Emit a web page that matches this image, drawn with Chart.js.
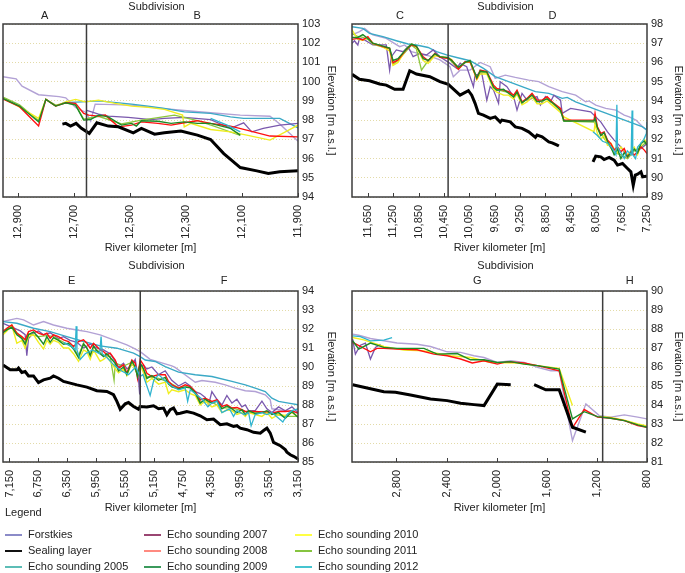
<!DOCTYPE html>
<html lang="en">
<head>
<meta charset="UTF-8" />
<title>River bed elevation by subdivision</title>
<script src="https://cdn.jsdelivr.net/npm/chart.js"></script>
<style>
  body { margin: 0; width: 685px; height: 573px; background: #fff; position: relative; overflow: hidden;
         font-family: Arial, "Liberation Sans", sans-serif; color: #222; }
  canvas { position: absolute; }
  #legendTitle { position: absolute; left: 5px; top: 506px; font-size: 11px; }
  .item { position: absolute; font-size: 11px; line-height: 15px; white-space: nowrap; }
  .item span.swatch { display: inline-block; width: 17px; height: 2px; vertical-align: middle; margin-right: 6px; }
</style>
</head>
<body>
<canvas id="c1" width="342" height="256" style="left:0;top:0"></canvas>
<canvas id="c2" width="342" height="256" style="left:343px;top:0"></canvas>
<canvas id="c3" width="342" height="256" style="left:0;top:260px"></canvas>
<canvas id="c4" width="342" height="256" style="left:343px;top:260px"></canvas>
<div id="legendTitle">Legend</div>
<div id="legend"></div>
<script>
// ---- tick labels (river kilometer, m) ----
const kmTicksAB = [12900, 12700, 12500, 12300, 12100, 11900];
const kmTicksCD = [11650, 11250, 10850, 10450, 10050, 9650, 9250, 8850, 8450, 8050, 7650, 7250];
const kmTicksEF = [7150, 6750, 6350, 5950, 5550, 5150, 4750, 4350, 3950, 3550, 3150];
const kmTicksGH = [2800, 2400, 2000, 1600, 1200, 800];

// subdivision boundaries (river km)
const splitAB = 12655, splitCD = 10385, splitEF = 5337, splitGH = 1154;

// ---- panel A/B ----
const forstkiesAB = [[12953,100.26],[12906,100.15],[12885,99.77],[12826,99.32],[12753,99.22],[12729,99.16],[12694,98.66],[12657,98.4],[12640,97.95],[12624,98.83],[12494,98.78],[12377,98.6],[12306,98.5],[12212,98.38],[12106,98.26],[12000,98.2],[11965,97.8],[11900,96.9]];
const sealingAB = [[12741,97.79],[12729,97.83],[12712,97.69],[12692,97.83],[12673,97.57],[12645,97.31],[12618,97.86],[12577,97.69],[12541,97.65],[12488,97.34],[12459,97.57],[12412,97.27],[12377,97.34],[12318,97.43],[12259,97.22],[12212,96.99],[12165,96.26],[12106,95.53],[12047,95.36],[12006,95.22],[11965,95.31],[11900,95.36]];
const echo2005AB = [[12741,98.9],[12671,98.95],[12612,99.0],[12494,98.83],[12435,98.73],[12377,98.61],[12306,98.43],[12212,98.35],[12141,98.17],[12094,98.09],[11965,98.09],[11900,97.6]];
const echo2007AB = [[12657,98.52],[12612,98.31],[12577,98.21],[12506,98.14],[12424,98.03],[12377,98.09],[12306,98.14],[12212,98.03],[12141,97.57],[12094,97.86],[12065,97.39],[12024,97.57],[11965,97.74],[11900,97.83]];
const echo2008AB = [[12953,99.1],[12894,98.7],[12826,97.7],[12800,99.08],[12765,98.73],[12729,98.9],[12694,98.87],[12665,98.35],[12647,98.26],[12612,98.21],[12588,98.26],[12541,97.65],[12494,97.74],[12459,97.91],[12400,97.83],[12353,97.74],[12306,97.86],[12259,97.97],[12212,97.83],[12141,97.69],[12083,97.48],[12000,97.17],[11900,97.13]];
const echo2009AB = [[12953,99.13],[12894,98.73],[12826,97.91],[12800,99.08],[12765,98.73],[12729,98.9],[12694,98.78],[12665,98.0],[12641,98.03],[12612,98.26],[12577,98.17],[12530,97.74],[12494,97.83],[12477,97.69],[12459,97.97],[12400,97.94],[12353,97.83],[12306,97.91],[12259,97.83],[12212,97.83],[12141,97.57],[12106,97.22]];
const echo2010AB = [[12953,99.13],[12906,98.78],[12826,98.09],[12800,99.08],[12765,98.73],[12729,98.95],[12694,99.08],[12659,98.95],[12612,99.04],[12553,98.87],[12494,98.73],[12435,98.66],[12377,98.56],[12312,98.26],[12306,97.65],[12283,97.83],[12212,97.51],[12141,97.39],[12083,97.22],[12000,96.96],[11900,97.74]];
const echo2011AB = [[12953,99.2],[12894,98.8],[12826,97.97],[12800,99.08],[12765,98.78],[12729,98.9],[12694,98.8],[12665,98.05],[12612,98.2],[12530,97.8],[12459,98.0],[12341,98.26],[12259,97.97],[12200,97.69],[12106,97.2]];
const echo2012AB = [[12212,98.09],[12153,97.74],[12106,97.39]];

// ---- panel C/D ----
const forstkiesCD = [[11900,97.43],[11782,97.6],[11703,97.77],[11571,97.43],[11360,97.25],[11148,96.82],[11069,96.91],[10963,96.56],[10858,96.47],[10673,96.33],[10514,96.13],[10356,95.78],[10303,95.26],[10197,95.6],[10039,95.6],[9880,96.0],[9722,95.78],[9643,95.17],[9484,95.34],[9326,95.22],[9115,95.08],[8956,95.0],[8798,94.74],[8586,94.48],[8375,94.3],[8217,93.95],[8164,94.0],[8058,93.78],[7900,93.61],[7741,93.52],[7609,93.26],[7530,93.17],[7424,93.0],[7319,92.65],[7250,92.48]];
const sealingCD = [[11900,95.38],[11782,95.12],[11624,95.05],[11465,94.88],[11360,94.82],[11227,94.6],[11095,94.6],[10990,95.57],[10884,95.4],[10673,95.26],[10514,95.0],[10382,94.86],[10197,94.3],[10065,94.53],[10013,94.3],[9960,93.87],[9907,93.35],[9828,93.26],[9722,93.09],[9643,93.17],[9564,92.9],[9537,93.0],[9405,92.91],[9326,92.65],[9220,92.57],[9115,92.39],[9009,92.1],[8983,92.22],[8903,92.13],[8798,91.87],[8745,91.82],[8666,91.7],[8639,91.65],[8400,null],[8101,90.83],[8058,91.13],[7979,91.09],[7926,90.95],[7847,91.06],[7768,90.92],[7715,90.66],[7636,90.74],[7557,90.48],[7504,90.31],[7467,89.61],[7435,90.14],[7398,90.19],[7345,90.31],[7319,90.05],[7266,90.08],[7250,90.1]];
const echo2005CD = [[11900,97.86],[11729,97.77],[11624,97.51],[11412,97.34],[11201,97.13],[11016,96.96],[10884,96.91],[10699,96.78],[10567,96.56],[10409,96.39],[10250,96.26],[10039,96.09],[9828,95.69],[9643,95.26],[9432,95.0],[9220,94.74],[9009,94.48],[8798,94.39],[8586,94.13],[8507,94.18],[8375,93.95],[8164,93.69],[7953,93.43],[7741,93.17],[7530,92.91],[7319,92.65],[7250,92.48]];
const echo2007CD = [[11900,96.99],[11861,97.13],[11808,96.91],[11782,97.25],[11703,97.17],[11571,96.91],[11360,96.91],[11307,95.6],[11280,96.3],[11201,96.65],[11095,96.56],[11016,96.82],[10937,96.3],[10831,96.47],[10726,96.39],[10620,96.65],[10514,96.3],[10356,95.95],[10250,95.69],[10197,95.95],[10092,95.78],[9986,94.74],[9960,95.34],[9854,95.43],[9775,94.04],[9722,94.74],[9669,94.56],[9590,93.87],[9564,95.0],[9458,94.74],[9352,94.22],[9299,93.52],[9220,94.39],[9141,94.04],[9062,94.13],[8983,94.22],[8930,93.78],[8851,94.22],[8771,93.95],[8718,94.3],[8613,94.04],[8586,93.35],[8454,93.61],[8296,93.52],[8138,93.43],[8058,93.17],[7979,92.91],[7873,92.39],[7768,91.96],[7662,91.61],[7557,91.09],[7451,91.44],[7345,91.52],[7250,91.78]];
const echo2008CD = [[11900,97.2],[11808,97.25],[11729,97.17],[11650,97.34],[11571,96.99],[11412,96.82],[11307,96.73],[11254,95.99],[11175,96.13],[11043,96.68],[10963,96.91],[10884,96.82],[10778,96.3],[10699,96.09],[10594,96.47],[10514,96.26],[10382,96.21],[10330,96.13],[10224,95.64],[10118,96.04],[10039,96.04],[9933,95.17],[9880,95.6],[9775,95.52],[9669,94.82],[9617,94.65],[9511,94.56],[9432,94.48],[9352,94.3],[9299,94.56],[9220,93.95],[9141,94.13],[9062,94.39],[8983,94.04],[8903,94.04],[8824,94.22],[8718,93.87],[8613,93.61],[8560,93.0],[8296,93.0],[8085,93.0],[8069,93.35],[8032,92.65],[7979,92.31],[7926,92.39],[7873,91.96],[7820,91.78],[7768,91.44],[7715,91.61],[7662,91.35],[7609,91.52],[7557,91.09],[7504,91.35],[7451,91.18],[7398,91.35],[7345,91.61],[7292,91.44],[7250,91.26]];
const echo2009CD = [[11900,97.3],[11808,97.3],[11729,97.45],[11650,97.25],[11571,97.0],[11412,96.85],[11307,96.75],[11254,96.1],[11175,96.2],[11043,96.7],[10963,96.95],[10884,96.85],[10778,96.2],[10699,96.1],[10594,96.45],[10514,96.3],[10382,96.25],[10330,96.1],[10224,95.75],[10118,96.0],[10039,96.1],[9933,95.2],[9880,95.55],[9775,95.5],[9669,94.7],[9617,94.55],[9511,94.6],[9432,94.4],[9352,94.2],[9299,94.45],[9220,93.9],[9141,94.1],[9062,94.3],[8983,93.95],[8903,94.0],[8824,94.1],[8718,93.85],[8613,93.5],[8560,92.95],[8296,92.95],[8085,92.95],[8069,93.1],[8032,92.6],[7979,92.2],[7926,92.35],[7873,91.9],[7820,91.6],[7768,91.2],[7715,91.5],[7662,91.0],[7609,91.3],[7557,91.1],[7504,91.3],[7451,91.5],[7398,91.3],[7345,91.8],[7292,91.9],[7250,91.7]];
const echo2010CD = [[11900,97.7],[11808,97.2],[11729,97.15],[11650,97.3],[11571,97.0],[11412,96.8],[11307,96.6],[11254,95.85],[11175,96.0],[11043,96.7],[10963,96.95],[10884,96.8],[10778,96.1],[10699,95.95],[10594,96.35],[10514,96.3],[10382,96.25],[10330,96.15],[10224,95.7],[10118,96.0],[10039,96.05],[9933,95.1],[9880,95.4],[9775,95.4],[9669,94.6],[9617,94.45],[9511,94.3],[9432,94.3],[9352,94.1],[9299,94.35],[9220,93.8],[9141,93.95],[9062,94.2],[8983,93.85],[8903,93.85],[8824,94.0],[8718,93.7],[8613,93.4],[8560,93.17],[8085,92.4],[8069,92.8],[8032,92.3],[7979,92.0],[7926,92.2],[7873,91.7],[7820,91.8],[7768,91.5],[7715,91.3],[7662,91.6],[7609,91.4],[7557,91.2],[7504,91.4],[7451,91.6],[7398,91.2],[7345,91.7],[7292,92.0],[7250,91.8]];
const echo2011CD = [[11900,97.5],[11808,97.35],[11729,97.3],[11650,97.2],[11571,96.95],[11412,96.8],[11307,96.7],[11254,95.9],[11175,96.1],[11043,96.6],[10963,96.9],[10884,96.7],[10805,95.6],[10699,96.1],[10594,96.4],[10514,96.3],[10382,96.2],[10330,96.05],[10224,95.65],[10118,96.0],[10039,96.0],[9933,95.2],[9880,95.5],[9775,95.45],[9669,94.75],[9617,94.6],[9511,94.5],[9432,94.45],[9352,94.25],[9299,94.5],[9220,93.9],[9141,94.1],[9062,94.35],[8983,94.0],[8903,93.95],[8824,94.15],[8718,93.8],[8613,93.55],[8560,92.95],[8085,92.9],[7979,92.3],[7873,91.8],[7768,91.3],[7662,91.2],[7557,91.0],[7451,91.4],[7345,91.6],[7250,91.9]];
const echo2012CD = [[8101,92.4],[8032,92.2],[7950,91.9],[7870,91.8],[7790,91.5],[7740,91.2],[7725,93.8],[7715,91.6],[7660,91.3],[7609,91.0],[7560,91.4],[7500,91.2],[7485,93.5],[7475,91.2],[7430,91.0],[7398,91.6],[7345,91.8],[7300,92.0],[7260,92.3],[7250,92.9]];

// ---- panel E/F ----
const forstkiesEF = [[7240,92.39],[7048,92.56],[6955,92.48],[6817,92.21],[6678,92.39],[6540,92.21],[6355,92.04],[6216,91.95],[6077,91.86],[5893,91.69],[5708,91.43],[5523,91.16],[5430,90.99],[5338,90.81],[5200,90.4],[4900,90.06],[4854,89.98],[4575,89.2],[4482,89.29],[4298,89.2],[4159,89.06],[4020,88.89],[3881,88.75],[3743,88.71],[3604,88.54],[3535,88.27],[3512,87.8],[3419,87.75],[3281,87.66],[3150,87.57]];
const sealingEF = [[7240,90.11],[7141,89.85],[7048,89.85],[7025,89.94],[6979,89.71],[6933,89.76],[6886,89.53],[6817,89.53],[6748,89.18],[6678,89.32],[6586,89.41],[6540,89.53],[6470,89.41],[6401,89.24],[6309,89.15],[6216,89.06],[6077,88.94],[5939,88.75],[5800,88.71],[5708,88.54],[5661,88.19],[5615,87.78],[5546,88.06],[5500,88.13],[5430,87.92],[5361,87.78],[5338,87.92],[5245,87.89],[5153,87.96],[5083,87.8],[5014,87.84],[4968,87.49],[4922,87.75],[4875,87.84],[4829,87.54],[4783,87.57],[4691,87.66],[4598,87.57],[4506,87.43],[4413,87.22],[4321,87.26],[4228,86.96],[4136,87.01],[4044,86.87],[3997,86.91],[3951,86.78],[3858,86.7],[3766,86.56],[3673,86.52],[3627,86.66],[3581,86.78],[3535,86.52],[3489,86.03],[3396,85.86],[3327,85.65],[3304,85.52],[3257,85.38],[3211,85.3],[3150,85.16]];
const echo2005EF = [[7240,92.39],[7048,92.3],[6817,92.04],[6586,91.86],[6355,91.6],[6124,91.34],[5893,91.11],[5661,90.99],[5430,90.73],[5338,90.55],[5268,90.37],[5130,90.29],[4991,90.02],[4806,89.73],[4575,89.59],[4344,89.5],[4066,89.24],[3881,89.06],[3743,88.89],[3604,88.71],[3512,88.36],[3419,88.19],[3281,88.1],[3150,88.01]];
const echo2007EF = [[7240,92.3],[7118,92.1],[7000,91.9],[6933,91.7],[6910,90.6],[6886,91.5],[6817,91.8],[6748,91.9],[6678,91.7],[6586,91.8],[6470,91.5],[6401,91.6],[6309,91.4],[6216,91.3],[6124,91.0],[6031,91.2],[5939,91.0],[5846,90.9],[5754,90.7],[5684,90.3],[5638,90.0],[5569,90.2],[5523,89.9],[5453,90.1],[5407,90.4],[5360,89.3],[5345,88.55],[5338,90.0],[5292,90.1],[5245,89.9],[5176,90.0],[5083,89.6],[4991,89.8],[4900,89.3],[4806,89.0],[4714,89.2],[4644,89.0],[4575,88.7],[4506,88.6],[4436,88.4],[4390,88.0],[4344,88.7],[4274,88.3],[4205,88.0],[4136,88.5],[4066,88.1],[3997,88.3],[3928,87.9],[3881,88.0],[3835,87.7],[3743,87.7],[3650,88.2],[3581,87.8],[3512,87.6],[3419,87.9],[3327,87.7],[3234,87.9],[3150,87.6]];
const echo2008EF = [[7240,91.86],[7187,92.04],[7118,92.21],[7048,91.78],[6979,91.6],[6933,91.43],[6886,91.86],[6817,91.95],[6748,91.78],[6678,91.69],[6632,91.78],[6586,91.51],[6540,91.69],[6470,91.6],[6401,91.43],[6332,91.34],[6262,91.08],[6193,91.34],[6124,91.43],[6077,91.25],[6031,90.99],[5985,91.25],[5939,91.08],[5893,90.9],[5846,90.81],[5800,90.64],[5754,90.73],[5684,90.37],[5638,89.94],[5569,90.11],[5523,89.67],[5453,90.37],[5407,90.2],[5375,89.41],[5338,90.37],[5292,90.11],[5245,89.67],[5176,89.5],[5083,89.59],[4991,89.59],[4945,89.24],[4899,89.06],[4806,88.89],[4714,89.06],[4644,88.97],[4575,88.71],[4506,88.27],[4436,88.36],[4344,88.19],[4274,88.27],[4205,87.92],[4136,88.01],[4066,87.84],[3997,87.87],[3928,87.75],[3881,87.66],[3835,87.66],[3743,87.66],[3650,87.63],[3581,87.66],[3512,87.57],[3419,87.66],[3327,87.66],[3234,87.7],[3150,87.57]];
const echo2009EF = [[7240,91.8],[7187,91.95],[7118,92.1],[7048,91.7],[6979,91.5],[6933,91.2],[6886,91.7],[6817,91.85],[6748,91.55],[6678,91.2],[6632,91.6],[6586,91.3],[6540,91.55],[6470,91.4],[6401,91.2],[6332,91.25],[6262,90.95],[6193,90.5],[6124,91.2],[6077,91.0],[6031,90.6],[5985,91.1],[5939,90.85],[5893,90.7],[5846,90.55],[5800,90.7],[5754,90.5],[5684,90.2],[5638,89.8],[5569,90.0],[5523,89.6],[5453,90.3],[5407,90.0],[5375,89.5],[5338,90.2],[5292,89.9],[5245,89.4],[5176,89.55],[5083,89.3],[4991,89.45],[4945,89.1],[4899,88.95],[4806,88.85],[4714,88.95],[4644,88.9],[4575,88.65],[4506,88.1],[4436,88.3],[4344,88.1],[4274,88.2],[4205,87.8],[4136,87.95],[4066,87.8],[3997,87.6],[3928,87.75],[3881,87.5],[3835,87.7],[3743,87.55],[3650,87.6],[3581,87.7],[3512,87.5],[3419,87.6],[3327,87.3],[3234,87.65],[3150,87.35]];
const echo2010EF = [[7240,91.7],[7187,91.9],[7118,92.2],[7048,91.25],[6979,91.4],[6933,91.0],[6886,91.6],[6817,91.7],[6748,91.3],[6678,90.95],[6632,91.4],[6586,91.2],[6540,91.4],[6470,91.3],[6401,91.0],[6332,91.0],[6262,90.7],[6193,90.3],[6124,90.9],[6077,90.8],[6031,90.4],[5985,90.9],[5939,90.6],[5893,90.3],[5846,90.4],[5800,90.55],[5754,90.3],[5684,89.9],[5638,89.7],[5569,89.9],[5523,89.55],[5453,90.2],[5407,89.9],[5375,89.6],[5338,90.1],[5292,89.7],[5245,89.2],[5176,89.4],[5083,89.1],[4991,89.2],[4945,88.6],[4899,88.8],[4806,88.7],[4714,88.8],[4644,88.6],[4575,88.5],[4506,88.0],[4436,88.2],[4344,87.9],[4274,88.0],[4205,87.6],[4136,87.75],[4066,87.7],[3997,87.5],[3928,87.6],[3881,87.4],[3835,87.6],[3743,87.5],[3650,87.4],[3581,87.6],[3512,87.3],[3419,87.5],[3327,87.45],[3234,87.6],[3150,87.4]];
const echo2011EF = [[7240,91.9],[7118,92.15],[7048,91.8],[6933,91.3],[6886,91.75],[6748,91.6],[6632,91.65],[6540,91.6],[6401,91.3],[6262,91.0],[6193,90.6],[6124,91.25],[6031,90.7],[5939,90.9],[5846,90.6],[5754,90.55],[5700,89.3],[5684,90.2],[5569,90.05],[5453,90.25],[5375,89.6],[5338,90.2],[5245,89.5],[5083,89.4],[4945,89.2],[4806,88.9],[4644,88.95],[4506,88.2],[4344,88.15],[4205,87.85],[4066,87.85],[3928,87.7],[3835,87.6],[3650,87.65],[3512,87.55],[3327,87.4],[3150,87.4]];
const echo2012EF = [[6400,91.3],[6300,91.1],[6240,90.9],[6225,92.15],[6215,90.9],[6170,90.4],[6100,90.7],[6000,90.9],[5900,90.7],[5880,91.6],[5865,90.7],[5800,90.5],[5700,90.1],[5600,89.8],[5500,89.6],[5400,90.0],[5340,89.5],[5300,89.6],[5200,88.5],[5150,89.3],[5083,89.6],[5000,89.3],[4900,89.0],[4806,88.8],[4714,88.9],[4680,88.2],[4644,88.8],[4575,88.6],[4480,88.3],[4400,87.9],[4344,88.1],[4274,88.2],[4205,87.6],[4100,87.8],[4044,87.4],[3997,87.7],[3900,87.5],[3835,87.6],[3800,86.9],[3743,87.5],[3650,87.6],[3581,87.5],[3512,87.6],[3419,87.3],[3360,87.1],[3300,87.5],[3234,87.7],[3150,87.8]];

// ---- panel G/H ----
const forstkiesGH = [[3150,87.73],[3101,87.67],[3008,87.5],[2901,87.38],[2795,87.26],[2635,87.2],[2528,87.08],[2395,86.8],[2288,86.77],[2181,86.59],[2101,86.5],[1995,86.24],[1888,86.33],[1781,86.24],[1675,85.98],[1568,85.8],[1501,85.8],[1395,82.13],[1288,84.06],[1181,83.44],[1088,83.36],[981,83.48],[874,83.36],[800,83.27]];
const sealingGH = [[3150,85.07],[3061,84.93],[2901,84.7],[2808,84.67],[2688,84.53],[2528,84.32],[2395,84.23],[2288,84.09],[2181,84.02],[2101,83.97],[1995,85.1],[1888,85.07],[1800,null],[1701,85.07],[1608,84.8],[1501,84.8],[1395,82.83],[1288,82.57]];
const echo2005GH = [];
const echo2007GH = [[3150,87.47],[3128,86.68],[3088,87.15],[3048,87.26],[3008,86.42],[2968,87.03],[2928,87.2]];
const echo2008GH = [[3150,87.29],[3088,87.08],[3008,86.8],[2955,86.98],[2901,86.99],[2795,86.94],[2635,86.91],[2501,86.68],[2395,86.59],[2288,86.42],[2195,86.21],[2101,86.33],[1995,86.15],[1915,86.28],[1781,86.21],[1675,86.07],[1501,85.8],[1395,82.8],[1301,83.76],[1195,83.36],[1088,83.3],[981,83.18],[874,82.92],[800,82.83]];
const echo2009GH = [[3150,87.38],[3101,86.94],[3008,87.26],[2901,87.03],[2795,86.98],[2581,86.98],[2475,86.68],[2315,86.71],[2208,86.38],[2101,86.38],[1995,86.24],[1888,86.28],[1781,86.15],[1675,86.07],[1501,85.89],[1395,83.27],[1301,83.65],[1195,83.39],[1088,83.3],[981,83.18],[874,82.95],[800,82.83]];
const echo2010GH = [[3150,87.55],[3061,87.43],[2901,87.08],[2741,86.89],[2581,86.85],[2368,86.59],[2208,86.5],[2048,86.24],[1835,86.21],[1675,86.07],[1501,85.93],[1395,83.97],[1300,null],[1181,83.4],[1088,83.35],[981,83.2],[874,83.0],[800,82.9]];
const echo2011GH = [];
const echo2012GH = [[3150,87.64],[3088,87.6],[3008,87.38],[2901,87.41],[2835,87.55]];

// ---- series styles (first drawn on top) ----
const seriesStyles = [
  { name: 'Sealing layer',      color: '#000000', width: 3 },
  { name: 'Echo sounding 2012', color: '#2fb4cf', width: 1.3 },
  { name: 'Echo sounding 2009', color: '#1c8a26', width: 1.4 },
  { name: 'Echo sounding 2008', color: '#ff1010', width: 1.4 },
  { name: 'Echo sounding 2010', color: '#f0ee20', width: 1.4 },
  { name: 'Echo sounding 2011', color: '#8cc63f', width: 1.3 },
  { name: 'Echo sounding 2007', color: '#7a58ad', width: 1.3 },
  { name: 'Echo sounding 2005', color: '#3aa9c6', width: 1.4 },
  { name: 'Forstkies',          color: '#b2a1d5', width: 1.4 }
];

const legendItems = [
  { name: 'Forstkies',          color: '#8b8bc8', col: 0, row: 0 },
  { name: 'Sealing layer',      color: '#111111', col: 0, row: 1 },
  { name: 'Echo sounding 2005', color: '#5cbdb6', col: 0, row: 2 },
  { name: 'Echo sounding 2007', color: '#9a4672', col: 1, row: 0 },
  { name: 'Echo sounding 2008', color: '#ff8a80', col: 1, row: 1 },
  { name: 'Echo sounding 2009', color: '#3b9a5c', col: 1, row: 2 },
  { name: 'Echo sounding 2010', color: '#ffff44', col: 2, row: 0 },
  { name: 'Echo sounding 2011', color: '#86c440', col: 2, row: 1 },
  { name: 'Echo sounding 2012', color: '#45c4d0', col: 2, row: 2 }
];

const FONT = 'Arial, "Liberation Sans", sans-serif';

const panels = [
  { id: 'c1', xMin: 11900, xMax: 12953, yMin: 94, yMax: 103, ticks: kmTicksAB, split: splitAB, letters: ['A', 'B'],
    pad: { top: 24, left: 3, right: 4, bottom: 0 }, xAxisH: 59, yAxisW: 40, titleY: 7, letterY: 16,
    series: [sealingAB, echo2012AB, echo2009AB, echo2008AB, echo2010AB, echo2011AB, echo2007AB, echo2005AB, forstkiesAB] },
  { id: 'c2', xMin: 7250, xMax: 11900, yMin: 89, yMax: 98, ticks: kmTicksCD, split: splitCD, letters: ['C', 'D'],
    pad: { top: 24, left: 9, right: 0, bottom: 0 }, xAxisH: 59, yAxisW: 38, titleY: 7, letterY: 16,
    series: [sealingCD, echo2012CD, echo2009CD, echo2008CD, echo2010CD, echo2011CD, echo2007CD, echo2005CD, forstkiesCD] },
  { id: 'c3', xMin: 3150, xMax: 7240, yMin: 85, yMax: 94, ticks: kmTicksEF, split: splitEF, letters: ['E', 'F'],
    pad: { top: 31, left: 3, right: 4, bottom: 0 }, xAxisH: 54, yAxisW: 40, titleY: 6, letterY: 21,
    series: [sealingEF, echo2012EF, echo2009EF, echo2008EF, echo2010EF, echo2011EF, echo2007EF, echo2005EF, forstkiesEF] },
  { id: 'c4', xMin: 800, xMax: 3155, yMin: 81, yMax: 90, ticks: kmTicksGH, split: splitGH, letters: ['G', 'H'],
    pad: { top: 31, left: 9, right: 0, bottom: 0 }, xAxisH: 54, yAxisW: 38, titleY: 6, letterY: 21,
    series: [sealingGH, echo2012GH, echo2009GH, echo2008GH, echo2010GH, echo2011GH, echo2007GH, echo2005GH, forstkiesGH] }
];

const toXY = arr => arr.map(([x, y]) => ({ x, y }));

// box, subdivision line, inward ticks and subdivision letters
const framePlugin = {
  id: 'frame',
  afterDatasetsDraw(chart, args, opts) {
    const { ctx, chartArea: a } = chart;
    const xs = chart.scales.x;
    ctx.save();
    ctx.strokeStyle = '#3c3c3c';
    ctx.lineWidth = 1.5;
    ctx.strokeRect(a.left, a.top, a.right - a.left, a.bottom - a.top);
    const sx = xs.getPixelForValue(opts.split);
    ctx.beginPath();
    ctx.moveTo(sx, a.top);
    ctx.lineTo(sx, a.bottom);
    ctx.stroke();
    ctx.lineWidth = 1;
    ctx.beginPath();
    opts.ticks.forEach(v => {
      const px = Math.round(xs.getPixelForValue(v)) + 0.5;
      ctx.moveTo(px, a.bottom);
      ctx.lineTo(px, a.bottom - 4);
    });
    ctx.stroke();
    ctx.fillStyle = '#222';
    ctx.font = '11px ' + FONT;
    ctx.textAlign = 'center';
    ctx.textBaseline = 'middle';
    ctx.fillText('Subdivision', (a.left + a.right) / 2 + 6, opts.titleY);
    ctx.fillText(opts.letters[0], (a.left + sx) / 2, opts.letterY);
    ctx.fillText(opts.letters[1], (sx + a.right) / 2 + 5, opts.letterY);
    ctx.restore();
  }
};

panels.forEach(p => {
  new Chart(document.getElementById(p.id), {
    type: 'line',
    data: {
      datasets: seriesStyles.map((s, i) => ({
        label: s.name,
        data: toXY(p.series[i]),
        borderColor: s.color,
        borderWidth: s.width,
        pointRadius: 0,
        tension: 0,
        fill: false,
        spanGaps: false
      }))
    },
    options: {
      responsive: false,
      animation: false,
      events: [],
      layout: { padding: p.pad },
      plugins: {
        legend: { display: false },
        tooltip: { enabled: false },
        frame: { split: p.split, ticks: p.ticks, letters: p.letters, titleY: p.titleY, letterY: p.letterY }
      },
      scales: {
        x: {
          type: 'linear',
          reverse: true,
          min: p.xMin,
          max: p.xMax,
          afterBuildTicks: s => { s.ticks = p.ticks.map(v => ({ value: v })); },
          afterFit: s => { s.height = p.xAxisH; },
          grid: { display: false },
          border: { display: false },
          ticks: {
            autoSkip: false, minRotation: 90, maxRotation: 90, padding: 0,
            color: '#222', font: { size: 11, family: FONT },
            callback: v => v.toLocaleString('en-US')
          },
          title: { display: true, text: 'River kilometer [m]', color: '#222',
                   font: { size: 11, family: FONT }, padding: { top: 0, bottom: 1 } }
        },
        y: {
          position: 'right',
          min: p.yMin,
          max: p.yMax,
          afterFit: s => { s.width = p.yAxisW; },
          grid: { color: '#e3dba8', lineWidth: 1, drawTicks: false },
          border: { display: false, dash: [1, 2] },
          ticks: { stepSize: 1, padding: 4, color: '#222', font: { size: 11, family: FONT } },
          title: { display: true, text: 'Elevation [m a.s.l.]', color: '#222',
                   font: { size: 11, family: FONT }, padding: { top: 0, bottom: 0 } }
        }
      }
    },
    plugins: [framePlugin]
  });
});

// legend
const legendEl = document.getElementById('legend');
const colX = [5, 144, 295];
legendItems.forEach(it => {
  const d = document.createElement('div');
  d.className = 'item';
  d.style.left = colX[it.col] + 'px';
  d.style.top = (527 + it.row * 16) + 'px';
  d.innerHTML = `<span class="swatch" style="background:${it.color}"></span>${it.name}`;
  legendEl.appendChild(d);
});
</script>
</body>
</html>
